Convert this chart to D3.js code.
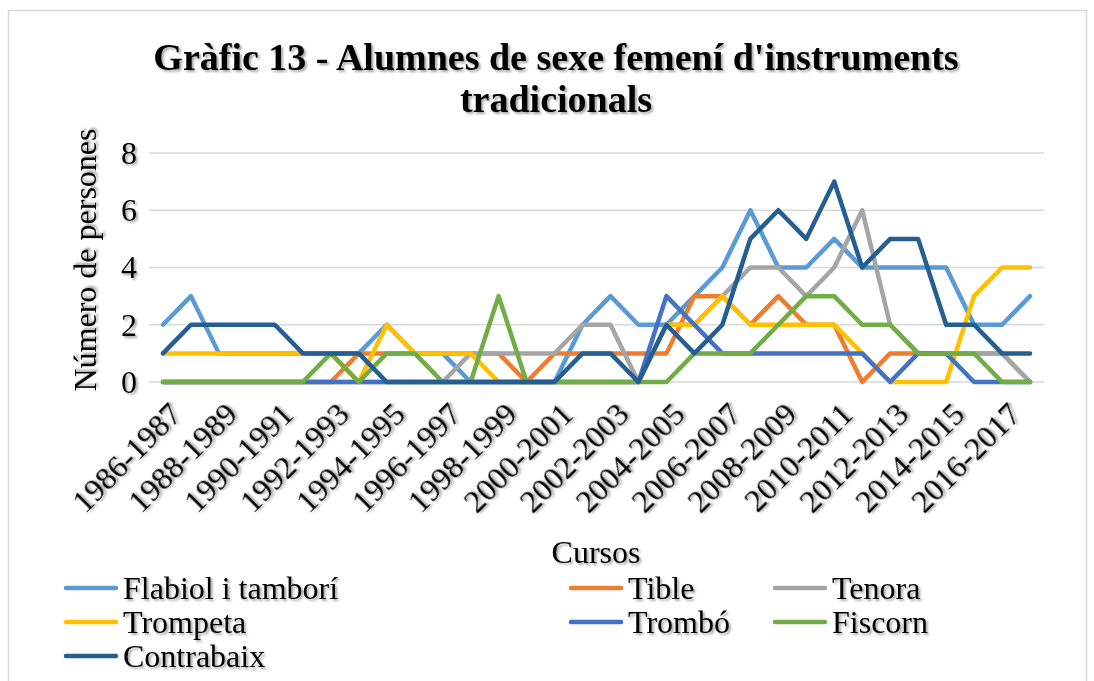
<!DOCTYPE html>
<html>
<head>
<meta charset="utf-8">
<script src="https://cdn.jsdelivr.net/npm/d3@7"></script>
<style>
  body { margin: 0; background: #fff; }
  text { font-family: "Liberation Serif", "Times New Roman", serif; fill: #000; }
</style>
</head>
<body>
<div id="chart"></div>
<script>
// cursos (one point per school year)
var cursos = ["1986-1987","1987-1988","1988-1989","1989-1990","1990-1991","1991-1992","1992-1993","1993-1994",
              "1994-1995","1995-1996","1996-1997","1997-1998","1998-1999","1999-2000","2000-2001","2001-2002",
              "2002-2003","2003-2004","2004-2005","2005-2006","2006-2007","2007-2008","2008-2009","2009-2010",
              "2010-2011","2011-2012","2012-2013","2013-2014","2014-2015","2015-2016","2016-2017","2017-2018"];

var flabiol    = [2,3,1,1,1,1,1,1,2,1,1,0,0,0,0,2,3,2,2,3,4,6,4,4,5,4,4,4,4,2,2,3];
var tible      = [0,0,0,0,0,0,0,1,1,1,1,1,1,0,1,1,1,1,1,3,3,2,3,2,2,0,1,1,1,1,1,0];
var tenora     = [0,0,0,0,0,0,0,0,0,0,0,1,1,1,1,2,2,0,2,2,3,4,4,3,4,6,2,1,1,1,1,0];
var trompeta   = [1,1,1,1,1,1,1,0,2,1,1,1,0,0,0,0,0,0,2,2,3,2,2,2,2,1,0,0,0,3,4,4];
var trombo     = [0,0,0,0,0,0,0,0,0,0,0,0,0,0,0,0,0,0,3,2,1,1,1,1,1,1,0,1,1,0,0,0];
var fiscorn    = [0,0,0,0,0,0,1,0,1,1,0,0,3,0,0,0,0,0,0,1,1,1,2,3,3,2,2,1,1,1,0,0];
var contrabaix = [1,2,2,2,2,1,1,1,0,0,0,0,0,0,0,1,1,0,2,1,2,5,6,5,7,4,5,5,2,2,1,1];

var seriesNames = ["Flabiol i tamborí","Tible","Tenora","Trompeta","Trombó","Fiscorn","Contrabaix"];
var seriesValues = [flabiol, tible, tenora, trompeta, trombo, fiscorn, contrabaix];
var colors = ["#5B9BD5","#ED7D31","#A5A5A5","#FFC000","#4472C4","#70AD47","#255E91"];
var yTicks = [0,2,4,6,8];

var W = 1094, H = 681;
var svg = d3.select('#chart').append('svg')
            .attr('width', W)
            .attr('height', H);

// soft shadow like the Excel text effect
var f = svg.append('defs').append('filter').attr('id','shadow')
           .attr('x','-10%').attr('y','-10%').attr('width','130%').attr('height','140%');
f.append('feDropShadow').attr('dx',2).attr('dy',2).attr('stdDeviation',1.3)
 .attr('flood-color','#000').attr('flood-opacity',0.35);

// chart frame
svg.append('rect')
   .attr('x', 8.5).attr('y', 10.5)
   .attr('width', 1078).attr('height', 700)
   .attr('fill','none').attr('stroke','#d9d9d9').attr('stroke-width',1.5);

var x = d3.scaleBand().domain(cursos).range([149, 1044]).padding(0);
var y = d3.scaleLinear().domain([0, 8]).range([382, 153]);
var cx = function(d) { return x(d) + x.bandwidth() / 2; };

// gridlines
svg.append('g').selectAll('line').data(yTicks).enter().append('line')
   .attr('x1', 149).attr('x2', 1044)
   .attr('y1', function(d) { return y(d); })
   .attr('y2', function(d) { return y(d); })
   .attr('stroke', '#d9d9d9').attr('stroke-width', 1.5);

// y axis labels
var yAxis = svg.append('g')
   .attr('transform', 'translate(149,0)')
   .call(d3.axisLeft(y).tickValues(yTicks).tickSize(0).tickPadding(12));
yAxis.select('.domain').remove();
yAxis.selectAll('text')
   .attr('font-size', 32).attr('fill', '#000')
   .style('font-family', '"Liberation Serif", "Times New Roman", serif')
   .attr('filter', 'url(#shadow)');

// x axis labels, every second course
var xAxis = svg.append('g')
   .attr('transform', 'translate(0,382)')
   .call(d3.axisBottom(x).tickValues(cursos.filter(function(d, i) { return i % 2 === 0; }))
           .tickSize(0).tickPadding(0));
xAxis.select('.domain').remove();
xAxis.selectAll('text')
   .attr('font-size', 32).attr('fill', '#000')
   .style('font-family', '"Liberation Serif", "Times New Roman", serif')
   .attr('text-anchor', 'end')
   .attr('dy', '0.72em')
   .attr('transform', 'translate(4,18) rotate(-45)')
   .attr('filter', 'url(#shadow)');

// lines
var line = d3.line()
   .x(function(d, i) { return cx(cursos[i]); })
   .y(function(d) { return y(d); });

svg.append('g').selectAll('path').data(seriesValues).enter().append('path')
   .attr('d', line)
   .attr('fill', 'none')
   .attr('stroke', function(d, i) { return colors[i]; })
   .attr('stroke-width', 4.5)
   .attr('stroke-linejoin', 'round')
   .attr('stroke-linecap', 'round');

// title
var title = svg.append('text')
   .attr('x', 556).attr('y', 70)
   .attr('text-anchor', 'middle')
   .attr('font-size', 38).attr('font-weight', 'bold')
   .attr('filter', 'url(#shadow)');
title.append('tspan').attr('x', 556).text("Gràfic 13 - Alumnes de sexe femení d'instruments");
title.append('tspan').attr('x', 556).attr('dy', 42).text("tradicionals");

// axis titles
svg.append('text')
   .attr('transform', 'translate(96,260) rotate(-90)')
   .attr('text-anchor', 'middle')
   .attr('font-size', 32)
   .attr('filter', 'url(#shadow)')
   .text('Número de persones');

svg.append('text')
   .attr('x', 596).attr('y', 563)
   .attr('text-anchor', 'middle')
   .attr('font-size', 32)
   .attr('filter', 'url(#shadow)')
   .text('Cursos');

// legend
var legendCols = [66, 571, 775];
var legend = svg.append('g').selectAll('g').data(seriesNames).enter().append('g')
   .attr('transform', function(d, i) {
     return 'translate(' + legendCols[i % 3] + ',' + (588 + Math.floor(i / 3) * 34) + ')';
   });
legend.append('line')
   .attr('x1', 0).attr('x2', 50).attr('y1', 0).attr('y2', 0)
   .attr('stroke', function(d, i) { return colors[i]; })
   .attr('stroke-width', 4.5)
   .attr('stroke-linecap', 'round');
legend.append('text')
   .attr('x', 57).attr('y', 11)
   .attr('font-size', 32)
   .attr('filter', 'url(#shadow)')
   .text(function(d) { return d; });
</script>
</body>
</html>
